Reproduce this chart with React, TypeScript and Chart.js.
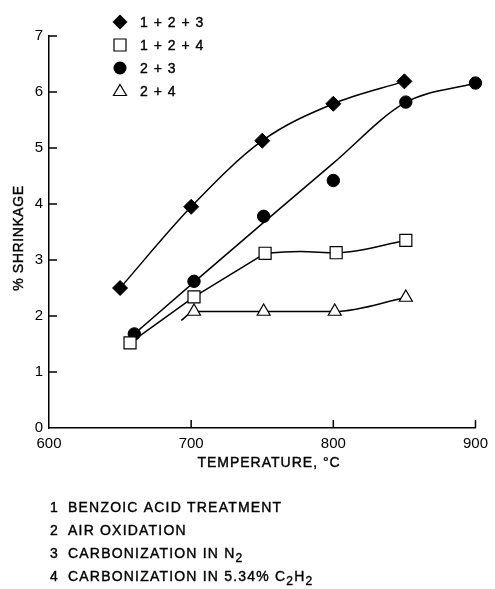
import React, { useEffect, useRef } from 'react';
import { Chart, registerables } from 'chart.js';
Chart.register(...registerables);

// ---- data ----
const temps123 = [650, 700, 750, 800, 850];
const shrink123 = [2.5, 3.95, 5.13, 5.79, 6.19];
const temps124 = [657, 702, 752, 802, 851];
const shrink124 = [1.52, 2.34, 3.12, 3.13, 3.35];
const temps23 = [660, 702, 751, 800, 851, 900];
const shrink23 = [1.68, 2.62, 3.78, 4.42, 5.82, 6.16];
const temps24 = [702, 751, 801, 851];
const shrink24 = [2.08, 2.08, 2.08, 2.33];

// fitted curves as drawn in the figure
const curveT123 = [650, 700, 750, 800, 850];
const curveS123 = [2.5, 3.95, 5.13, 5.79, 6.19];
const curveT124a = [657, 702, 752];
const curveS124a = [1.52, 2.34, 3.12];
const curveT124b = [752, 777, 802, 851];
const curveS124b = [3.12, 3.15, 3.13, 3.35];
const curveT23 = [660, 700, 750, 800, 850, 900];
const curveS23 = [1.68, 2.56, 3.65, 4.73, 5.8, 6.16];
const curveT24 = [693, 702, 751, 801, 851];
const curveS24 = [1.92, 2.08, 2.08, 2.08, 2.33];

const legendLabels = ['1 + 2 + 3', '1 + 2 + 4', '2 + 3', '2 + 4'];
const footnotes: [string, string][][] = [
  [['1', ''], ['BENZOIC ACID TREATMENT', '']],
  [['2', ''], ['AIR OXIDATION', '']],
  [['3', ''], ['CARBONIZATION IN N', ''], ['2', 'sub']],
  [['4', ''], ['CARBONIZATION IN 5.34% C', ''], ['2', 'sub'], ['H', ''], ['2', 'sub']],
];
const xTitle = 'TEMPERATURE, °C';
const yTitle = '% SHRINKAGE';
const xMarks = [700, 800, 900];
const yMarks = [1, 2, 3, 4, 5, 6, 7];

const FONT = "'Liberation Sans', Arial, Helvetica, sans-serif";

const pts = (xs: number[], ys: number[]) => xs.map((x, i) => ({ x, y: ys[i] }));

function drawMarker(ctx: CanvasRenderingContext2D, kind: number, x: number, y: number) {
  ctx.save();
  ctx.strokeStyle = '#000';
  ctx.lineWidth = 1.2;
  ctx.beginPath();
  if (kind === 0) {
    ctx.moveTo(x, y - 7.5); ctx.lineTo(x + 7.5, y); ctx.lineTo(x, y + 7.5); ctx.lineTo(x - 7.5, y); ctx.closePath();
    ctx.fillStyle = '#000'; ctx.fill();
  } else if (kind === 1) {
    ctx.rect(x - 6, y - 6, 12, 12);
    ctx.fillStyle = '#fff'; ctx.fill(); ctx.stroke();
  } else if (kind === 2) {
    ctx.arc(x, y, 6.5, 0, Math.PI * 2);
    ctx.fillStyle = '#000'; ctx.fill();
  } else {
    ctx.moveTo(x, y - 6.5); ctx.lineTo(x + 6.5, y + 4.5); ctx.lineTo(x - 6.5, y + 4.5); ctx.closePath();
    ctx.fillStyle = '#fff'; ctx.fill(); ctx.stroke();
  }
  ctx.restore();
}

function boldText(ctx: CanvasRenderingContext2D, t: string, x: number, y: number) {
  ctx.fillText(t, x, y);
  ctx.strokeText(t, x, y);
}

const decorPlugin = {
  id: 'decor',
  afterDraw(chart: any) {
    const ctx: CanvasRenderingContext2D = chart.ctx;
    const xs = chart.scales.x;
    const ys = chart.scales.y;
    const area = chart.chartArea;
    ctx.save();
    // inward tick marks
    ctx.strokeStyle = '#000';
    ctx.lineWidth = 1.5;
    ctx.beginPath();
    yMarks.forEach(v => {
      const py = ys.getPixelForValue(v);
      ctx.moveTo(area.left, py); ctx.lineTo(area.left + 8, py);
    });
    xMarks.forEach(v => {
      const px = xs.getPixelForValue(v);
      ctx.moveTo(px, area.bottom); ctx.lineTo(px, area.bottom - 8);
    });
    ctx.stroke();

    ctx.fillStyle = '#000';
    ctx.lineWidth = 0.4;
    // axis titles
    (ctx as any).letterSpacing = '1px';
    ctx.font = `14px ${FONT}`;
    ctx.textAlign = 'center';
    ctx.textBaseline = 'alphabetic';
    boldText(ctx, xTitle, 269, 467);
    ctx.save();
    ctx.translate(23, 238);
    ctx.rotate(-Math.PI / 2);
    (ctx as any).letterSpacing = '0.6px';
    boldText(ctx, yTitle, 0, 0);
    ctx.restore();

    // legend
    (ctx as any).letterSpacing = '1px';
    ctx.font = `14px ${FONT}`;
    ctx.textAlign = 'left';
    const rows = [22, 45, 68, 91];
    legendLabels.forEach((lab, i) => {
      drawMarker(ctx, i, 120, rows[i]);
      ctx.lineWidth = 0.4;
      boldText(ctx, lab, 140, rows[i] + 5);
    });

    // footnotes
    const fy = [507, 530, 553, 576];
    footnotes.forEach((parts, i) => {
      const base = fy[i] + 5;
      (ctx as any).letterSpacing = '1.2px';
      ctx.font = `14px ${FONT}`;
      boldText(ctx, parts[0][0], 50, base);
      let x = 68;
      for (let k = 1; k < parts.length; k++) {
        const [t, kind] = parts[k];
        if (kind === 'sub') {
          ctx.font = `12px ${FONT}`;
          boldText(ctx, t, x, base + 4);
          x += ctx.measureText(t).width;
        } else {
          ctx.font = `14px ${FONT}`;
          boldText(ctx, t, x, base);
          x += ctx.measureText(t).width;
        }
      }
    });
    ctx.restore();
  },
};

export default function App() {
  const ref = useRef<HTMLCanvasElement>(null);
  useEffect(() => {
    if (!ref.current) return;
    const curve = (data: any, mode: string) => ({
      data,
      showLine: true,
      pointRadius: 0,
      borderColor: '#000',
      borderWidth: 1.5,
      cubicInterpolationMode: mode,
      tension: 0,
      fill: false,
      clip: false,
    });
    const chart = new Chart(ref.current, {
      type: 'scatter',
      data: {
        datasets: [
          { label: legendLabels[0], data: pts(temps123, shrink123), pointStyle: 'rectRot', pointRadius: 7.5, backgroundColor: '#000', borderColor: '#000', borderWidth: 1, clip: false } as any,
          { label: legendLabels[1], data: pts(temps124, shrink124), pointStyle: 'rect', pointRadius: 8.5, backgroundColor: '#fff', borderColor: '#000', borderWidth: 1.2, clip: false },
          { label: legendLabels[2], data: pts(temps23, shrink23), pointStyle: 'circle', pointRadius: 6.2, backgroundColor: '#000', borderColor: '#000', borderWidth: 1, clip: false },
          { label: legendLabels[3], data: pts(temps24, shrink24), pointStyle: 'triangle', pointRadius: 7.5, backgroundColor: '#fff', borderColor: '#000', borderWidth: 1.2, clip: false },
          curve(pts(curveT123, curveS123), 'monotone'),
          curve(pts(curveT124a, curveS124a), 'default'),
          curve(pts(curveT124b, curveS124b), 'monotone'),
          curve(pts(curveT23, curveS23), 'monotone'),
          curve(pts(curveT24, curveS24), 'monotone'),
        ],
      },
      options: {
        responsive: false,
        animation: false,
        devicePixelRatio: 1,
        layout: { padding: { top: 36, right: 13, left: 0, bottom: 141 } },
        plugins: { legend: { display: false }, tooltip: { enabled: false } },
        scales: {
          x: {
            type: 'linear',
            min: 600,
            max: 900,
            afterFit: (s: any) => { s.height = 20; },
            ticks: { stepSize: 100, color: '#000', font: { family: FONT, size: 15 }, padding: 7 },
            grid: { display: false, drawTicks: false },
            border: { display: true, color: '#000', width: 1.5 },
          },
          y: {
            type: 'linear',
            min: 0,
            max: 7,
            afterFit: (s: any) => { s.width = 49; },
            ticks: { stepSize: 1, color: '#000', font: { family: FONT, size: 15 }, padding: 6 },
            grid: { display: false, drawTicks: false },
            border: { display: true, color: '#000', width: 1.5 },
          },
        },
      } as any,
      plugins: [decorPlugin],
    });
    return () => chart.destroy();
  }, []);
  return (
    <div style={{ position: 'fixed', left: 0, top: 0, width: 495, height: 589, background: '#fff' }}>
      <canvas ref={ref} width={495} height={589} />
    </div>
  );
}
